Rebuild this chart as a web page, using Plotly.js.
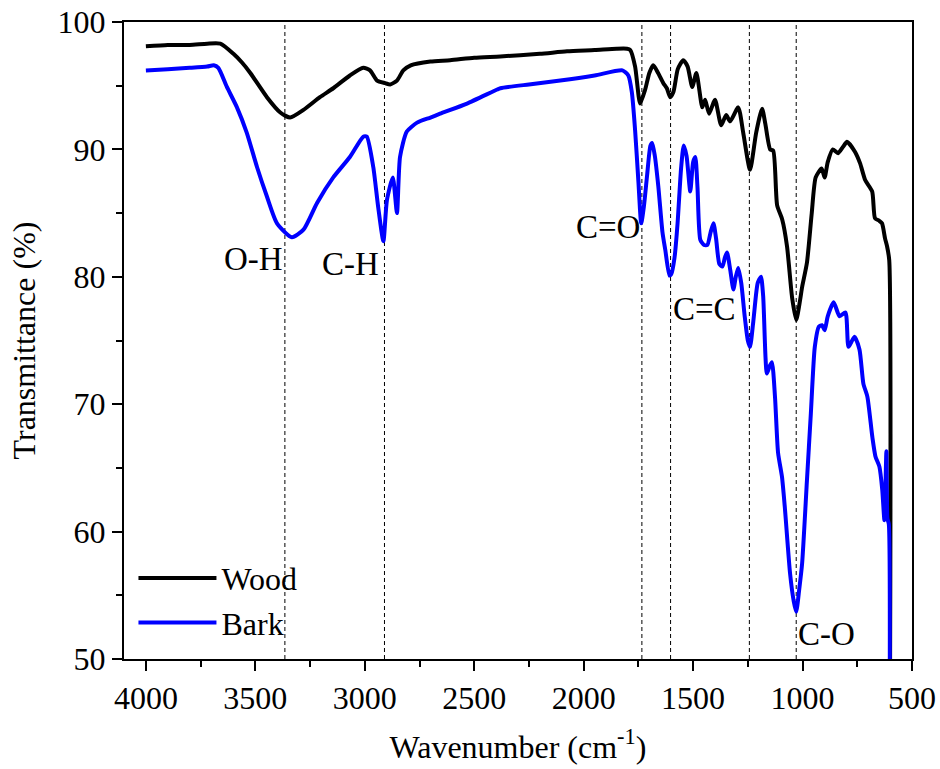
<!DOCTYPE html>
<html>
<head>
<meta charset="utf-8">
<script src="https://cdn.plot.ly/plotly-3.0.1.min.js"></script>
<style>html,body{margin:0;padding:0;background:#fff;}#chart{width:940px;height:769px;}</style>
</head>
<body>
<div id="chart"></div>
<script>
// Wood spectrum (wavenumber cm-1, transmittance %)
const woodWn = [4000,3900,3800,3720,3660,3600,3560,3523,3447,3386,3341,3280,3205,3144,3068,3007,2976,2944,2907,2884,2853,2824,2790,2700,2610,2500,2381,2200,2076,1950,1850,1802,1787,1765,1742,1719,1700,1682,1660,1636,1620,1605,1590,1570,1545,1525,1504,1485,1458,1445,1427,1400,1372,1349,1331,1294,1271,1240,1212,1185,1170,1148,1134,1116,1093,1071,1048,1029,1011,1002,980,958,940,913,899,885,862,838,815,797,760,737,714,682,669,650,637,623,614,604,601];
const woodT  = [98.1,98.2,98.2,98.3,98.3,97.5,96.8,96.0,94.1,92.9,92.5,93.1,94.1,94.8,95.8,96.4,96.2,95.4,95.2,95.1,95.4,96.2,96.6,96.9,97.0,97.2,97.3,97.5,97.7,97.8,97.9,97.9,97.8,96.5,93.6,94.7,96.0,96.6,96.0,95.2,94.8,94.1,94.5,96.3,97.0,96.5,94.9,96.0,93.3,93.9,92.8,93.9,91.9,92.7,92.2,93.3,91.3,88.4,91.3,93.2,92.0,90.0,89.9,85.6,84.5,82.4,78.4,76.6,78.2,79.2,81.1,85.0,87.8,88.5,87.8,89.0,90.0,89.7,90.2,90.6,89.8,88.9,87.6,86.7,84.6,84.4,84.2,83.0,82.4,81.3,45];

// Bark spectrum
const barkWn = [4000,3900,3800,3720,3690,3669,3630,3584,3539,3492,3447,3401,3333,3280,3218,3144,3068,3007,2991,2961,2939,2915,2899,2872,2853,2839,2808,2761,2700,2656,2533,2395,2380,2250,2107,1950,1823,1796,1780,1765,1750,1737,1725,1710,1695,1687,1675,1659,1640,1627,1608,1600,1585,1571,1555,1543,1530,1513,1500,1490,1480,1467,1450,1435,1420,1407,1395,1380,1366,1355,1345,1330,1316,1305,1294,1280,1265,1250,1240,1225,1205,1190,1180,1163,1150,1140,1126,1112,1094,1081,1057,1040,1029,1015,1002,980,962,944,925,911,899,885,858,831,804,790,763,740,722,704,681,667,649,636,626,617,612,606,603];
const barkT  = [96.2,96.3,96.4,96.5,96.6,96.4,94.9,93.3,91.3,88.6,86.3,84.2,83.1,83.7,85.8,87.8,89.4,91.0,91.0,88.6,85.5,82.8,86.0,87.8,85.0,89.4,91.4,92.1,92.5,92.8,93.6,94.7,94.8,95.1,95.4,95.8,96.2,95.8,94.5,91.5,87.5,84.2,85.5,88.0,90.3,90.5,89.5,87.1,83.5,82.1,80.1,80.2,81.5,84.2,88.5,90.3,89.5,86.7,89.0,89.4,87.0,82.9,82.5,82.5,83.5,84.2,83.0,81.0,80.8,81.5,81.9,80.5,79.0,80.0,80.7,79.5,77.0,75.0,74.5,76.5,79.5,80.0,78.5,72.4,73.0,73.3,70.6,66.2,64.3,61.9,56.7,54.5,53.7,55.5,57.5,64.0,69.3,74.5,76.1,76.2,75.8,76.9,78.0,76.9,77.2,74.5,75.3,74.3,71.6,70.6,67.4,65.9,65.1,63.3,60.9,66.3,61.0,60.6,40];

// Band positions and labels
const bandWn = [3365, 2910, 1734, 1603, 1243, 1029];
const labelText = ['O-H', 'C-H', 'C=O', 'C=C', 'C-O'];
const labelWn   = [3365, 2925, 1734, 1603, 1029];
const labelT    = [81.4, 81.0, 83.9, 77.5, 52.0];
const labelSide = ['right', 'right', 'right', 'left', 'left'];

const seriesNames = ['Wood', 'Bark'];
const seriesColors = ['#000000', '#0000ff'];

const FONT = 'Liberation Serif, Times New Roman, serif';

const traces = [
  {x: woodWn, y: woodT, name: seriesNames[0], type: 'scatter', mode: 'lines',
   line: {color: seriesColors[0], width: 4, shape: 'spline', smoothing: 0.6}},
  {x: barkWn, y: barkT, name: seriesNames[1], type: 'scatter', mode: 'lines',
   line: {color: seriesColors[1], width: 4, shape: 'spline', smoothing: 0.6}}
];

const shapes = bandWn.map(w => ({
  type: 'line', xref: 'x', yref: 'paper', x0: w, x1: w, y0: 0, y1: 1,
  line: {color: '#000', width: 1, dash: '4px,3px'}, layer: 'below'
}));

const annotations = labelText.map((t, i) => ({
  text: t, x: labelWn[i], y: labelT[i], xref: 'x', yref: 'y',
  xanchor: labelSide[i], yanchor: 'middle', showarrow: false,
  font: {family: FONT, size: 33, color: '#000'}
}));

const axisCommon = {
  showgrid: false, zeroline: false, showline: true, linecolor: '#000', linewidth: 2,
  mirror: true, ticks: 'outside', ticklen: 10, tickwidth: 2, tickcolor: '#000',
  tickfont: {family: FONT, size: 32, color: '#000'}
};

const layout = {
  width: 940, height: 769,
  margin: {l: 124, r: 28, t: 22, b: 110},
  paper_bgcolor: '#fff', plot_bgcolor: '#fff',
  font: {family: FONT, color: '#000'},
  xaxis: Object.assign({}, axisCommon, {
    range: [4100, 500], tickmode: 'linear', tick0: 500, dtick: 500,
    minor: {dtick: 250, ticks: 'outside', ticklen: 6, tickwidth: 2, tickcolor: '#000'},
    title: {text: 'Wavenumber (cm<sup>-1</sup>)', font: {family: FONT, size: 32, color: '#000'}, standoff: 20}
  }),
  yaxis: Object.assign({}, axisCommon, {
    range: [50, 100], tickmode: 'linear', tick0: 50, dtick: 10,
    minor: {dtick: 5, ticks: 'outside', ticklen: 6, tickwidth: 2, tickcolor: '#000'},
    title: {text: 'Transmittance (%)', font: {family: FONT, size: 32, color: '#000'}, standoff: 12}
  }),
  showlegend: true,
  legend: {x: 0.012, y: 0.17, xanchor: 'left', yanchor: 'top', bgcolor: 'rgba(0,0,0,0)',
           font: {family: FONT, size: 32, color: '#000'}, itemwidth: 78, tracegroupgap: 0},
  shapes: shapes,
  annotations: annotations
};

Plotly.newPlot('chart', traces, layout, {displayModeBar: false, staticPlot: true});
</script>
</body>
</html>
